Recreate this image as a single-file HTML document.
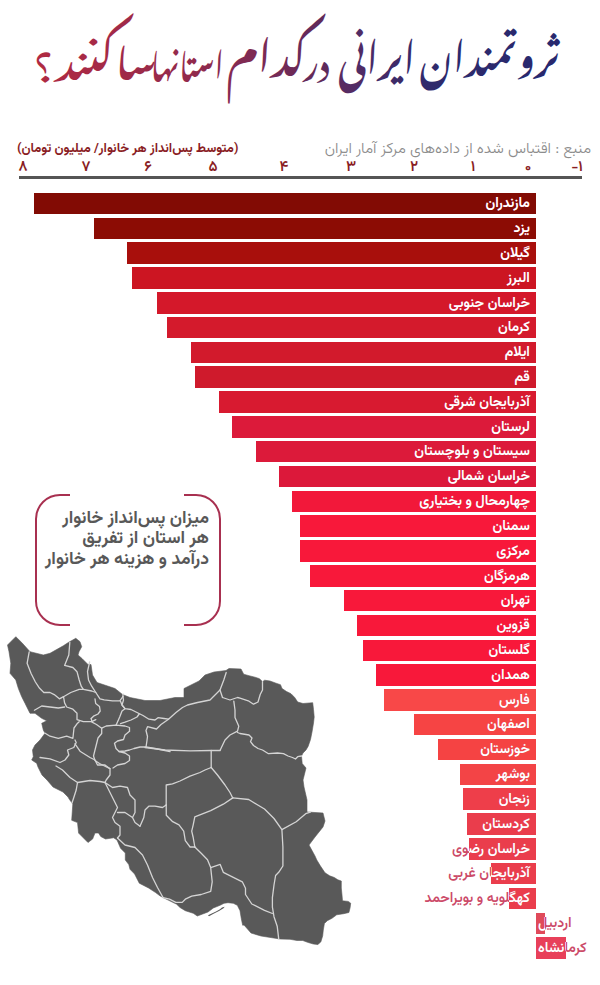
<!DOCTYPE html>
<html lang="fa"><head><meta charset="utf-8">
<style>
html,body{margin:0;padding:0;}
body{width:600px;height:985px;position:relative;overflow:hidden;background:#fff;font-family:"Vazirmatn","DejaVu Sans",sans-serif;}
.abs{position:absolute;}
.src{position:absolute;right:9px;top:139px;font-size:15.3px;font-weight:300;color:#8c8c8c;direction:rtl;white-space:nowrap;line-height:20px;}
.axl{position:absolute;left:17px;top:139px;font-size:13px;font-weight:700;color:#8a1d24;direction:rtl;white-space:nowrap;line-height:20px;}
.tick{position:absolute;top:158.2px;font-size:15px;font-weight:600;color:#8a1d24;line-height:20px;transform:translateX(-50%);white-space:nowrap;}
.axis{position:absolute;left:19px;top:176px;width:563px;height:2.5px;background:#555;}
.bar{position:absolute;height:21.6px;}
.lbl{position:absolute;margin-top:1.5px;right:70.10000000000002px;height:21.6px;line-height:21.6px;font-size:14px;font-weight:600;direction:rtl;white-space:nowrap;}
.lbl .o{color:#cc4a68;}
.clip{position:absolute;height:21.6px;overflow:hidden;}
.clip .lbl{color:#fff;}
.nl{position:absolute;margin-top:1.5px;height:21.6px;line-height:21.6px;font-size:14px;font-weight:600;direction:rtl;white-space:nowrap;}
.nl .o{color:#cc4a68;}
.map{position:absolute;left:0;top:0;}
.title{position:absolute;left:0;top:0;}
.box{position:absolute;left:34.7px;top:493.7px;width:186.5px;height:132.5px;box-sizing:border-box;border:2.3px solid #a83050;border-radius:25px;}
.boxmask{position:absolute;background:#fff;}
.boxt{position:absolute;right:391px;top:509px;font-size:17.6px;font-weight:700;color:#585858;direction:rtl;white-space:nowrap;line-height:20.4px;text-align:right;}
</style></head><body>
<svg class="title" width="600" height="125" viewBox="0 0 600 125">
<defs><linearGradient id="tg" gradientUnits="userSpaceOnUse" x1="35" y1="0" x2="560" y2="0">
<stop offset="0" stop-color="#b02a42"/><stop offset="0.124" stop-color="#a52a47"/><stop offset="0.295" stop-color="#922a4c"/>
<stop offset="0.448" stop-color="#782a55"/><stop offset="0.543" stop-color="#602a5a"/><stop offset="0.6" stop-color="#552c64"/>
<stop offset="0.695" stop-color="#3c2a68"/><stop offset="0.771" stop-color="#2e2a6c"/><stop offset="1" stop-color="#28286e"/>
</linearGradient></defs>
<g font-family="Noto Nastaliq Urdu, DejaVu Sans, serif" font-weight="600" font-size="35.4" fill="url(#tg)" text-anchor="middle" direction="rtl" lengthAdjust="spacingAndGlyphs">
<text x="489.7" y="78" textLength="140.1" lengthAdjust="spacingAndGlyphs" transform="translate(0,91) scale(1,1.14) translate(0,-91)">ثروتمندان</text>
<text x="376.9" y="81" textLength="77.3" lengthAdjust="spacingAndGlyphs" transform="translate(0,94) scale(1,1.2) translate(0,-94)">ایرانی</text>
<text x="316.7" y="80" textLength="25.6" lengthAdjust="spacingAndGlyphs">در</text>
<text x="267" y="81" textLength="80" lengthAdjust="spacingAndGlyphs" transform="translate(0,105) scale(1,1.19) translate(0,-105)">کدام</text>
<text x="187.1" y="82" textLength="73.4" lengthAdjust="spacingAndGlyphs">استانها</text>
<text x="106.5" y="80" textLength="101" lengthAdjust="spacingAndGlyphs" transform="translate(0,82) scale(1,1.1) translate(0,-82)">ساکنند</text>
<text x="44" y="82.5" textLength="21.4" lengthAdjust="spacingAndGlyphs">؟</text>
</g></svg>
<div class="src">منبع : اقتباس شده از داده‌های مرکز آمار ایران</div>
<div class="axl">(متوسط پس‌انداز هر خانوار/ میلیون تومان)</div>
<div class="tick" style="left:23px">۸</div>
<div class="tick" style="left:86px">۷</div>
<div class="tick" style="left:148px">۶</div>
<div class="tick" style="left:213px">۵</div>
<div class="tick" style="left:284px">۴</div>
<div class="tick" style="left:351px">۳</div>
<div class="tick" style="left:414px">۲</div>
<div class="tick" style="left:473px">۱</div>
<div class="tick" style="left:528px">۰</div>
<div class="tick" style="left:577px">-۱</div>
<div class="axis"></div>
<div class="bar" style="top:192.7px;left:34px;width:501.9px;background:#820b04"></div>
<div class="lbl" style="top:192.7px"><span class="o">مازندران</span></div>
<div class="clip" style="top:192.7px;left:34px;width:501.9px"><div class="lbl in" style="top:0;right:6px"><span>مازندران</span></div></div>
<div class="bar" style="top:217.5px;left:93.5px;width:442.4px;background:#8c0c04"></div>
<div class="lbl" style="top:217.5px"><span class="o">یزد</span></div>
<div class="clip" style="top:217.5px;left:93.5px;width:442.4px"><div class="lbl in" style="top:0;right:6px"><span>یزد</span></div></div>
<div class="bar" style="top:242.3px;left:126.5px;width:409.4px;background:#a80f0c"></div>
<div class="lbl" style="top:242.3px"><span class="o">گیلان</span></div>
<div class="clip" style="top:242.3px;left:126.5px;width:409.4px"><div class="lbl in" style="top:0;right:6px"><span>گیلان</span></div></div>
<div class="bar" style="top:267.2px;left:132px;width:403.9px;background:#cc1522"></div>
<div class="lbl" style="top:267.2px"><span class="o">البرز</span></div>
<div class="clip" style="top:267.2px;left:132px;width:403.9px"><div class="lbl in" style="top:0;right:6px"><span>البرز</span></div></div>
<div class="bar" style="top:292.0px;left:157px;width:378.9px;background:#d4182a"></div>
<div class="lbl" style="top:292.0px"><span class="o">خراسان جنوبی</span></div>
<div class="clip" style="top:292.0px;left:157px;width:378.9px"><div class="lbl in" style="top:0;right:6px"><span>خراسان جنوبی</span></div></div>
<div class="bar" style="top:316.8px;left:166.5px;width:369.4px;background:#d41a2c"></div>
<div class="lbl" style="top:316.8px"><span class="o">کرمان</span></div>
<div class="clip" style="top:316.8px;left:166.5px;width:369.4px"><div class="lbl in" style="top:0;right:6px"><span>کرمان</span></div></div>
<div class="bar" style="top:341.6px;left:191px;width:344.9px;background:#d21a2c"></div>
<div class="lbl" style="top:341.6px"><span class="o">ایلام</span></div>
<div class="clip" style="top:341.6px;left:191px;width:344.9px"><div class="lbl in" style="top:0;right:6px"><span>ایلام</span></div></div>
<div class="bar" style="top:366.4px;left:195px;width:340.9px;background:#cf1a2c"></div>
<div class="lbl" style="top:366.4px"><span class="o">قم</span></div>
<div class="clip" style="top:366.4px;left:195px;width:340.9px"><div class="lbl in" style="top:0;right:6px"><span>قم</span></div></div>
<div class="bar" style="top:391.3px;left:219px;width:316.9px;background:#d81a30"></div>
<div class="lbl" style="top:391.3px"><span class="o">آذربایجان شرقی</span></div>
<div class="clip" style="top:391.3px;left:219px;width:316.9px"><div class="lbl in" style="top:0;right:6px"><span>آذربایجان شرقی</span></div></div>
<div class="bar" style="top:416.1px;left:231.5px;width:304.4px;background:#dc1a3a"></div>
<div class="lbl" style="top:416.1px"><span class="o">لرستان</span></div>
<div class="clip" style="top:416.1px;left:231.5px;width:304.4px"><div class="lbl in" style="top:0;right:6px"><span>لرستان</span></div></div>
<div class="bar" style="top:440.9px;left:256px;width:279.9px;background:#dc1a3a"></div>
<div class="lbl" style="top:440.9px"><span class="o">سیستان و بلوچستان</span></div>
<div class="clip" style="top:440.9px;left:256px;width:279.9px"><div class="lbl in" style="top:0;right:6px"><span>سیستان و بلوچستان</span></div></div>
<div class="bar" style="top:465.7px;left:278.7px;width:257.2px;background:#dc183a"></div>
<div class="lbl" style="top:465.7px"><span class="o">خراسان شمالی</span></div>
<div class="clip" style="top:465.7px;left:278.7px;width:257.2px"><div class="lbl in" style="top:0;right:6px"><span>خراسان شمالی</span></div></div>
<div class="bar" style="top:490.5px;left:291.5px;width:244.4px;background:#f2183a"></div>
<div class="lbl" style="top:490.5px"><span class="o">چهارمحال و بختیاری</span></div>
<div class="clip" style="top:490.5px;left:291.5px;width:244.4px"><div class="lbl in" style="top:0;right:6px"><span>چهارمحال و بختیاری</span></div></div>
<div class="bar" style="top:515.4px;left:299.6px;width:236.3px;background:#f8183a"></div>
<div class="lbl" style="top:515.4px"><span class="o">سمنان</span></div>
<div class="clip" style="top:515.4px;left:299.6px;width:236.3px"><div class="lbl in" style="top:0;right:6px"><span>سمنان</span></div></div>
<div class="bar" style="top:540.2px;left:299.6px;width:236.3px;background:#f8183a"></div>
<div class="lbl" style="top:540.2px"><span class="o">مرکزی</span></div>
<div class="clip" style="top:540.2px;left:299.6px;width:236.3px"><div class="lbl in" style="top:0;right:6px"><span>مرکزی</span></div></div>
<div class="bar" style="top:565.0px;left:310.2px;width:225.7px;background:#f8183a"></div>
<div class="lbl" style="top:565.0px"><span class="o">هرمزگان</span></div>
<div class="clip" style="top:565.0px;left:310.2px;width:225.7px"><div class="lbl in" style="top:0;right:6px"><span>هرمزگان</span></div></div>
<div class="bar" style="top:589.8px;left:344px;width:191.9px;background:#f8183a"></div>
<div class="lbl" style="top:589.8px"><span class="o">تهران</span></div>
<div class="clip" style="top:589.8px;left:344px;width:191.9px"><div class="lbl in" style="top:0;right:6px"><span>تهران</span></div></div>
<div class="bar" style="top:614.6px;left:357.2px;width:178.7px;background:#f8183a"></div>
<div class="lbl" style="top:614.6px"><span class="o">قزوین</span></div>
<div class="clip" style="top:614.6px;left:357.2px;width:178.7px"><div class="lbl in" style="top:0;right:6px"><span>قزوین</span></div></div>
<div class="bar" style="top:639.5px;left:363.4px;width:172.5px;background:#f8183a"></div>
<div class="lbl" style="top:639.5px"><span class="o">گلستان</span></div>
<div class="clip" style="top:639.5px;left:363.4px;width:172.5px"><div class="lbl in" style="top:0;right:6px"><span>گلستان</span></div></div>
<div class="bar" style="top:664.3px;left:376.2px;width:159.7px;background:#f8183a"></div>
<div class="lbl" style="top:664.3px"><span class="o">همدان</span></div>
<div class="clip" style="top:664.3px;left:376.2px;width:159.7px"><div class="lbl in" style="top:0;right:6px"><span>همدان</span></div></div>
<div class="bar" style="top:689.1px;left:384px;width:151.9px;background:#f84848"></div>
<div class="lbl" style="top:689.1px"><span class="o">فارس</span></div>
<div class="clip" style="top:689.1px;left:384px;width:151.9px"><div class="lbl in" style="top:0;right:6px"><span>فارس</span></div></div>
<div class="bar" style="top:713.9px;left:413.5px;width:122.4px;background:#f64444"></div>
<div class="lbl" style="top:713.9px"><span class="o">اصفهان</span></div>
<div class="clip" style="top:713.9px;left:413.5px;width:122.4px"><div class="lbl in" style="top:0;right:6px"><span>اصفهان</span></div></div>
<div class="bar" style="top:738.7px;left:437.8px;width:98.1px;background:#f54343"></div>
<div class="lbl" style="top:738.7px"><span class="o">خوزستان</span></div>
<div class="clip" style="top:738.7px;left:437.8px;width:98.1px"><div class="lbl in" style="top:0;right:6px"><span>خوزستان</span></div></div>
<div class="bar" style="top:763.6px;left:460.3px;width:75.6px;background:#f34446"></div>
<div class="lbl" style="top:763.6px"><span class="o">بوشهر</span></div>
<div class="clip" style="top:763.6px;left:460.3px;width:75.6px"><div class="lbl in" style="top:0;right:6px"><span>بوشهر</span></div></div>
<div class="bar" style="top:788.4px;left:463.3px;width:72.6px;background:#ee3e4a"></div>
<div class="lbl" style="top:788.4px"><span class="o">زنجان</span></div>
<div class="clip" style="top:788.4px;left:463.3px;width:72.6px"><div class="lbl in" style="top:0;right:6px"><span>زنجان</span></div></div>
<div class="bar" style="top:813.2px;left:467px;width:68.9px;background:#ea3d4c"></div>
<div class="lbl" style="top:813.2px"><span class="o">کردستان</span></div>
<div class="clip" style="top:813.2px;left:467px;width:68.9px"><div class="lbl in" style="top:0;right:6px"><span>کردستان</span></div></div>
<div class="bar" style="top:838.0px;left:469.2px;width:66.7px;background:#ea3d4c"></div>
<div class="lbl" style="top:838.0px"><span class="o">خراسان رضوی</span></div>
<div class="clip" style="top:838.0px;left:469.2px;width:66.7px"><div class="lbl in" style="top:0;right:6px"><span>خراسان رضوی</span></div></div>
<div class="bar" style="top:862.8px;left:490.5px;width:45.4px;background:#ea3d4c"></div>
<div class="lbl" style="top:862.8px"><span class="o">آذربایجان غربی</span></div>
<div class="clip" style="top:862.8px;left:490.5px;width:45.4px"><div class="lbl in" style="top:0;right:6px"><span>آذربایجان غربی</span></div></div>
<div class="bar" style="top:887.7px;left:509px;width:26.9px;background:#ea3d4c"></div>
<div class="lbl" style="top:887.7px"><span class="o">کهگلویه و بویراحمد</span></div>
<div class="clip" style="top:887.7px;left:509px;width:26.9px"><div class="lbl in" style="top:0;right:6px"><span>کهگلویه و بویراحمد</span></div></div>
<div class="bar" style="top:912.5px;left:536.3px;width:8.7px;background:#e04a5a"></div>
<div class="nl" style="top:912.5px;left:538px"><span class="o">اردبیل</span></div>
<div class="clip" style="top:912.5px;left:536.3px;width:8.7px"><div class="nl" style="top:0;left:1.7px;color:#fff">اردبیل</div></div>
<div class="bar" style="top:937.3px;left:536.3px;width:30.0px;background:#e8405a"></div>
<div class="nl" style="top:937.3px;left:538px"><span class="o">کرمانشاه</span></div>
<div class="clip" style="top:937.3px;left:536.3px;width:30.0px"><div class="nl" style="top:0;left:1.7px;color:#fff">کرمانشاه</div></div>
<div class="box"></div>
<div class="boxmask" style="left:70px;top:490px;width:114px;height:8px"></div>
<div class="boxmask" style="left:70px;top:622px;width:114px;height:8px"></div>
<div class="boxt">میزان پس‌انداز خانوار<br>هر استان از تفریق<br>درآمد و هزینه هر خانوار</div>
<svg class="map" width="600" height="985" viewBox="0 0 600 985">
<polygon points="7.5,645.0 15.8,636.7 21.7,642.5 30.0,651.7 43.3,655.0 50.0,653.3 63.3,645.8 68.3,642.5 75.8,638.3 80.0,641.7 81.7,646.7 79.0,651.7 78.0,655.0 82.0,658.5 88.0,664.5 91.0,664.5 92.5,675.0 97.0,682.5 106.0,685.5 115.0,688.5 122.5,694.5 130.0,697.5 145.0,700.5 160.0,700.5 175.0,697.5 184.0,697.5 184.0,688.5 190.0,685.5 199.0,681.0 205.0,675.0 214.0,672.0 226.0,670.5 229.0,668.5 241.0,669.0 243.7,674.2 249.0,675.7 255.0,677.2 259.5,678.7 262.5,681.7 264.7,680.2 270.0,681.0 276.0,683.2 280.5,684.7 282.0,688.5 286.5,691.5 291.0,693.7 294.7,697.5 297.7,702.0 303.0,703.5 312.7,702.7 313.5,709.5 314.2,717.0 313.5,723.0 312.0,732.0 310.5,739.5 308.2,746.2 306.0,750.0 303.0,753.0 301.5,756.0 302.2,763.5 306.0,768.0 304.5,774.0 303.0,780.0 304.0,787.0 307.0,800.0 307.0,812.0 323.0,813.0 325.0,821.0 323.0,827.0 315.0,837.0 309.0,845.0 315.0,856.0 316.8,860.0 320.3,865.8 325.0,872.8 329.7,875.8 334.3,877.5 337.8,879.8 341.3,881.0 341.3,888.0 342.0,895.0 342.5,900.8 348.3,901.4 350.7,903.2 350.1,907.8 348.9,912.5 343.7,913.7 336.7,914.8 332.0,918.3 327.3,920.7 324.4,923.6 323.3,930.0 322.7,935.8 320.9,941.7 318.0,944.6 313.3,944.0 307.5,942.3 302.8,940.5 297.0,940.5 290.0,939.3 280.0,939.0 261.0,936.0 251.0,933.0 244.0,925.0 242.7,925.3 241.3,918.7 240.0,910.7 237.3,905.3 233.3,903.3 228.0,902.7 224.0,903.3 220.0,905.3 213.3,908.0 208.0,912.0 202.7,914.0 197.3,916.0 193.3,913.3 185.3,910.7 180.0,907.5 176.6,904.2 167.2,899.6 160.2,896.0 155.6,892.6 148.6,888.0 139.3,883.2 134.6,874.0 130.0,869.3 128.8,864.6 125.3,860.0 125.3,853.0 120.6,848.3 117.0,840.0 113.6,837.8 105.5,839.0 100.8,836.6 98.5,833.0 95.0,833.0 92.6,839.0 88.0,842.5 84.5,839.0 78.6,833.1 77.5,822.6 71.7,820.3 72.8,804.0 69.3,799.3 68.0,797.0 63.0,792.0 53.0,787.0 47.0,780.0 42.0,775.0 38.0,767.0 36.7,763.3 31.7,760.0 33.3,756.7 32.5,750.0 35.0,745.0 40.0,740.0 45.0,733.3 43.3,730.0 41.7,723.3 46.7,720.8 41.7,718.3 35.0,713.3 30.0,713.3 25.0,703.3 21.7,696.7 18.3,688.3 15.8,680.0 10.0,673.3 10.8,663.3 9.0,651.7" fill="#595959" stroke="#595959" stroke-width="0.6" stroke-linejoin="round"/>
<polygon points="208,915.3 216,911.5 220,909.3 222,907.5 224.7,906.7 223.5,908.3 219,911 214,913.5 209,916.2" fill="#595959"/>
<g fill="none" stroke="#d4d4d4" stroke-width="1.3" stroke-linejoin="round" stroke-linecap="round">
<polyline points="29.2,651.9 27.1,663.3 31.2,673.8 35.4,682.0 39.6,688.3 43.8,692.5 50.0,692.5 54.2,694.6 59.4,698.8 63.5,696.7"/>
<polyline points="63.5,696.7 70.8,692.5 79.2,689.4 83.3,689.4 91.7,691.0 95.8,692.5"/>
<polyline points="69.8,642.5 68.8,655.0 64.6,665.4 72.9,667.5 77.0,671.7 79.2,680.0 81.2,686.2 83.3,689.4"/>
<polyline points="89.6,662.0 87.5,671.7 88.5,680.0 91.7,686.2 95.8,692.5 100.0,698.8 104.2,699.8 112.5,700.8 119.8,700.8 122.9,696.7"/>
<polyline points="63.5,696.7 64.6,702.9 66.7,707.0 72.9,709.2 77.0,713.3 77.0,719.6 83.3,721.7 91.7,721.7 95.8,719.6"/>
<polyline points="95.0,699.0 95.7,703.5 99.5,706.5 100.2,711.0 98.0,714.0 93.5,716.2 91.2,718.5"/>
<polyline points="34.4,710.2 41.7,706.0 50.0,707.0 58.3,708.0 64.6,707.0"/>
<polyline points="44.8,733.0 50.0,736.2 58.3,738.3 66.7,736.2 72.9,738.3 74.0,728.0 77.0,723.8 79.2,721.7"/>
<polyline points="101.7,728.2 101.7,733.5 98.0,738.0 96.5,744.0 95.0,750.0 93.5,756.0 95.0,760.5 99.5,763.5 105.5,766.5 110.0,768.7"/>
<polyline points="91.2,718.5 92.0,722.2 96.5,724.5 101.7,728.2 106.2,726.0 116.0,725.2 125.0,726.0 129.5,727.5 129.5,731.2"/>
<polyline points="120.5,701.2 122.0,705.0 125.0,708.7 122.0,711.0 119.7,717.0 116.7,723.7 116.0,725.2"/>
<polyline points="40.0,757.5 50.0,758.8 60.0,762.5 65.0,760.0 68.8,755.0 67.5,750.0 73.8,747.5 76.2,742.5 75.0,740.0"/>
<polyline points="56.0,766.0 62.5,770.0 70.0,777.5 77.5,782.5 76.2,790.0 73.8,797.5 72.0,803.0"/>
<polyline points="77.5,782.5 90.0,780.5 100.0,781.5 105.0,782.5"/>
<polyline points="75.0,743.8 80.0,751.2 90.0,757.5 95.0,760.0 97.5,765.0 105.0,765.0 110.0,768.8 110.0,775.0 106.2,780.0 105.0,782.5"/>
<polyline points="105.0,782.5 112.5,787.5 120.0,786.2 127.5,787.5 130.0,795.0 135.0,800.0 135.0,812.5 132.5,817.5"/>
<polyline points="105.0,782.5 112.5,797.5 117.5,807.5 115.0,812.5 112.5,817.5 115.0,822.5 120.0,826.2 120.0,835.0 117.5,838.0"/>
<polyline points="117.5,812.5 125.0,812.5 132.5,817.5 135.0,822.5 140.0,826.2"/>
<polyline points="117.5,838.0 125.0,845.0 135.0,847.5 142.5,855.0 147.5,865.0 152.5,877.5 157.5,887.5 163.2,897.7"/>
<polyline points="140.0,826.2 143.8,817.5 145.0,810.0 148.8,806.2 155.0,806.2 162.5,807.5 166.2,805.0"/>
<polyline points="166.2,805.0 166.2,795.0 166.2,785.0 172.5,783.8 180.0,781.0 190.0,776.2 200.0,772.5 205.0,770.0 211.2,767.5"/>
<polyline points="119.0,751.5 125.0,751.0 129.5,750.0 134.0,748.5 140.0,747.0 146.0,747.0 155.0,748.5 162.5,750.0 170.0,751.5"/>
<polyline points="129.5,731.2 125.0,735.0 123.5,739.5 117.5,741.0 114.5,743.2 116.0,748.5 119.0,751.5 125.0,753.0 129.5,756.0 129.5,760.5 125.0,763.5 117.5,765.0 113.0,768.0"/>
<polyline points="120.5,723.7 125.0,722.2 131.0,720.0 137.0,717.0 139.2,714.0"/>
<polyline points="168.5,719.2 161.0,724.5 156.5,729.0 147.5,726.7 146.0,730.5 147.5,736.5 146.7,742.5 146.0,747.0"/>
<polyline points="145.0,747.5 165.0,750.0 190.0,750.8 211.2,750.5 220.0,750.5"/>
<polyline points="122.9,696.7 123.5,700.0 122.0,705.0 125.0,708.7 131.0,709.5 137.0,712.5 143.0,715.5 149.0,719.2 155.0,720.0 158.0,717.7 164.0,718.5 168.5,719.2 176.0,712.5 182.5,707.5 187.5,705.0 197.5,702.5 210.0,700.0 215.0,695.0 220.0,690.0"/>
<polyline points="122.9,696.7 123.0,694.0"/>
<polyline points="226.2,672.5 223.8,680.0 220.0,690.0 222.5,697.5"/>
<polyline points="222.5,697.5 230.0,700.0 237.5,697.5 240.0,698.2 249.0,701.2 253.5,704.2 258.0,702.0 260.2,694.5 262.5,690.0 262.5,681.7"/>
<polyline points="233.8,701.2 235.0,710.0 235.0,717.5 238.8,726.2 237.5,731.2 230.0,735.0 225.0,740.0 220.0,750.5"/>
<polyline points="237.5,732.5 240.0,733.5 249.0,735.0 252.0,738.0 250.5,741.7 253.5,745.5 258.0,748.5 262.5,750.0 268.5,753.7 277.5,753.0 283.5,753.7 288.0,756.0 292.5,757.5 295.5,759.0 297.7,756.7 301.5,756.0"/>
<polyline points="211.2,750.5 211.2,767.5"/>
<polyline points="211.2,767.5 217.5,775.0 225.0,785.0 230.0,792.5 232.5,797.5 232.8,797.9"/>
<polyline points="232.8,797.9 223.3,804.2 210.7,810.6 194.8,816.9 193.2,824.8 191.7,831.2 193.2,837.5 194.8,847.0"/>
<polyline points="232.8,797.9 248.7,799.5 264.5,809.0 274.0,818.5 281.9,829.6 296.2,821.7 305.7,813.7 310.4,812.2"/>
<polyline points="281.9,829.6 282.9,847.0 282.9,866.0 278.7,872.3 275.6,875.5 274.0,885.0 272.4,897.7 272.4,907.2 274.0,916.7 277.2,926.2 278.7,938.8"/>
<polyline points="194.8,847.0 201.2,853.3 207.5,859.7 210.7,867.6 220.2,864.4 223.3,872.3 232.8,877.1 242.3,881.8 245.5,888.2 245.5,894.5 251.8,904.0 264.5,910.3 272.4,913.5"/>
<polyline points="210.7,867.6 212.2,881.8 210.7,891.3 201.2,894.5 191.7,896.1 185.3,899.2 182.2,902.4 175.8,902.4 169.5,899.2 163.2,897.7"/>
<polyline points="166.2,805.0 166.3,815.3 172.7,821.7 179.0,824.8 183.7,831.2 185.3,840.7 190.1,847.0 194.8,847.0"/>
</g></svg>
</body></html>
